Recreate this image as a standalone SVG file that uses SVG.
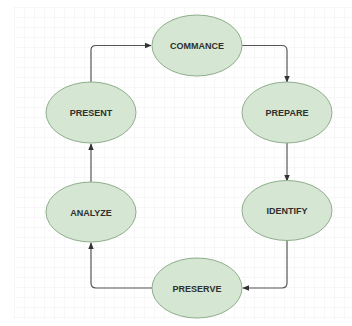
<svg xmlns="http://www.w3.org/2000/svg" width="352" height="326" viewBox="0 0 352 326">
<style>
.node ellipse{fill:#d5e6d2;stroke:#8fae8c;stroke-width:1}
.node text{font-family:"Liberation Sans",Arial,sans-serif;font-size:9px;font-weight:bold;fill:#2f2f2f;text-anchor:middle;dominant-baseline:central}
.edge{fill:none;stroke:#555;stroke-width:1.2}
</style>
<defs>
<pattern id="grid" x="14" y="7" width="10" height="10" patternUnits="userSpaceOnUse">
<path d="M0 0H10M0 0V10" fill="none" stroke="#f0f0f0" stroke-width="1"/>
</pattern>
<marker id="arr" viewBox="0 0 10 10" refX="9" refY="5" markerWidth="7" markerHeight="7" markerUnits="userSpaceOnUse" orient="auto">
<path d="M0 1L10 5L0 9Z" fill="#333"/>
</marker>
</defs>
<rect width="352" height="326" fill="#fff"/>
<rect x="14" y="7" width="338" height="312" fill="url(#grid)"/>
<g id="connectors">
<path class="edge" d="M91 82V50Q91 45.5 96 45.5H151" marker-end="url(#arr)"/>
<path class="edge" d="M242 45.5H282Q287 45.5 287 50.5V82" marker-end="url(#arr)"/>
<path class="edge" d="M287 143V181" marker-end="url(#arr)"/>
<path class="edge" d="M287 240V283Q287 288 282 288H243" marker-end="url(#arr)"/>
<path class="edge" d="M152 288H96Q91 288 91 283V243" marker-end="url(#arr)"/>
<path class="edge" d="M91 182V144" marker-end="url(#arr)"/>
</g>
<g id="commance" class="node"><ellipse cx="197" cy="45.5" rx="45" ry="30.5"/><text x="197" y="46">COMMANCE</text></g>
<g id="prepare" class="node"><ellipse cx="287" cy="112.5" rx="45" ry="30.5"/><text x="287" y="113">PREPARE</text></g>
<g id="identify" class="node"><ellipse cx="287" cy="210.5" rx="45" ry="30"/><text x="287" y="211">IDENTIFY</text></g>
<g id="preserve" class="node"><ellipse cx="197" cy="288" rx="45" ry="30"/><text x="197" y="289">PRESERVE</text></g>
<g id="analyze" class="node"><ellipse cx="91" cy="212" rx="45" ry="30"/><text x="91" y="213">ANALYZE</text></g>
<g id="present" class="node"><ellipse cx="91" cy="112.5" rx="45" ry="30.5"/><text x="91" y="113">PRESENT</text></g>
</svg>
